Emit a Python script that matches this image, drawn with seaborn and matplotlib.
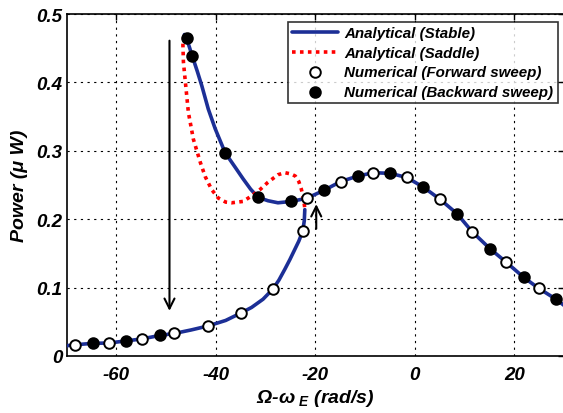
import matplotlib
matplotlib.use("Agg")
import matplotlib.pyplot as plt
import seaborn as sns
import pandas as pd

# ---- data ----
x_low = [-70, -68.2, -64.7, -61.5, -58.1, -54.8, -51.3, -48.3, -45.0, -41.5, -38.0,
         -34.9, -32.8, -30.5, -28.5, -27.3, -26.1, -25.1, -24.1, -23.3, -22.5, -22.2, -22.1]
y_low = [0.015, 0.0165, 0.0185, 0.019, 0.022, 0.025, 0.030, 0.033, 0.038, 0.044, 0.052,
         0.063, 0.071, 0.083, 0.098, 0.111, 0.127, 0.141, 0.156, 0.168, 0.183, 0.198, 0.214]

x_up = [-46.3, -45.8, -44.7, -43.7, -42.8, -41.5, -40.1, -38.1, -36.1, -34.5, -33.0,
        -31.5, -29.5, -27.5, -24.8, -22.8, -21.6, -18.3, -14.9, -11.5, -8.3, -4.9, -1.6,
        1.7, 5.1, 8.5, 11.5, 15.1, 18.4, 21.9, 24.9, 28.4, 30.0]
y_up = [0.470, 0.463, 0.438, 0.416, 0.395, 0.361, 0.332, 0.297, 0.276, 0.259, 0.244,
        0.232, 0.227, 0.224, 0.226, 0.229, 0.231, 0.242, 0.255, 0.263, 0.268, 0.267, 0.261,
        0.247, 0.229, 0.208, 0.182, 0.157, 0.137, 0.115, 0.099, 0.083, 0.074]

x_sad = [-46.4, -46.6, -46.5, -46.1, -45.5, -44.5, -43.1, -42.1, -40.8, -39.5, -38.0,
         -36.8, -34.5, -32.8, -31.0, -29.5, -27.5, -26.1, -24.8, -24.0, -23.3, -22.8,
         -22.4, -22.1]
y_sad = [0.468, 0.455, 0.430, 0.400, 0.356, 0.317, 0.283, 0.262, 0.243, 0.231, 0.225,
         0.224, 0.226, 0.234, 0.244, 0.254, 0.265, 0.268, 0.266, 0.263, 0.255, 0.244,
         0.232, 0.216]

x_fwd = [-68.2, -61.5, -54.8, -48.3, -41.5, -34.9, -28.5, -22.5, -21.6, -14.9, -8.3,
         -1.6, 5.1, 11.5, 18.4, 24.9]
y_fwd = [0.0165, 0.019, 0.025, 0.033, 0.044, 0.063, 0.098, 0.183, 0.231, 0.255, 0.268,
         0.261, 0.229, 0.182, 0.137, 0.099]

x_bwd = [-64.7, -58.1, -51.3, -45.8, -44.7, -38.1, -31.5, -24.8, -18.3, -11.5, -4.9,
         1.7, 8.5, 15.1, 21.9, 28.4]
y_bwd = [0.0185, 0.022, 0.030, 0.465, 0.438, 0.297, 0.232, 0.226, 0.242, 0.263, 0.267,
         0.247, 0.208, 0.157, 0.115, 0.083]

x_ticks = [-60, -40, -20, 0, 20]
y_ticks = [0, 0.1, 0.2, 0.3, 0.4, 0.5]
y_ticklabels = ["0", "0.1", "0.2", "0.3", "0.4", "0.5"]

sns.set_theme(style="white")
plt.rcParams['font.family'] = ['Liberation Sans', 'DejaVu Sans']
plt.rcParams['font.weight'] = 'bold'
plt.rcParams['font.style'] = 'italic'
plt.rcParams['text.color'] = 'black'
plt.rcParams['axes.labelcolor'] = 'black'
plt.rcParams['mathtext.fontset'] = 'custom'
plt.rcParams['mathtext.rm'] = 'Liberation Sans:bold:italic'
plt.rcParams['mathtext.it'] = 'Liberation Sans:bold:italic'
plt.rcParams['mathtext.bf'] = 'Liberation Sans:bold:italic'

fig = plt.figure(figsize=(5.63, 4.14), dpi=100)
ax = fig.add_axes([66.5 / 563, 57 / 414, 497.5 / 563, 342 / 414])

blue = '#1c2f96'
red = '#ff0000'

df_low = pd.DataFrame({'x': x_low, 'y': y_low})
df_up = pd.DataFrame({'x': x_up, 'y': y_up})
df_sad = pd.DataFrame({'x': x_sad, 'y': y_sad})

sns.lineplot(data=df_low, x='x', y='y', sort=False, color=blue, lw=2.6, ax=ax, zorder=3)
sns.lineplot(data=df_up, x='x', y='y', sort=False, color=blue, lw=2.6, ax=ax, zorder=3,
             label='Analytical (Stable)')
sns.lineplot(data=df_sad, x='x', y='y', sort=False, color=red, lw=2.6, ax=ax, zorder=4,
             linestyle=(0, (1, 1.2)), label='Analytical (Saddle)')
ax.scatter(x_fwd, y_fwd, s=58, facecolor='white', edgecolor='black', linewidth=1.4,
           zorder=5, label='Numerical (Forward sweep)')
ax.scatter(x_bwd, y_bwd, s=58, facecolor='black', edgecolor='black', linewidth=1.4,
           zorder=5, label='Numerical (Backward sweep)')

# arrows
ax.annotate('', xy=(-49.3, 0.066), xytext=(-49.3, 0.461),
            arrowprops=dict(arrowstyle='->', color='black', lw=1.5,
                            mutation_scale=18, shrinkA=0, shrinkB=0), zorder=6)
ax.annotate('', xy=(-19.8, 0.222), xytext=(-19.8, 0.186),
            arrowprops=dict(arrowstyle='->', color='black', lw=1.5,
                            mutation_scale=18, shrinkA=0, shrinkB=0), zorder=6)

ax.set_xlim(-70, 30)
ax.set_ylim(0, 0.5)
ax.set_xticks(x_ticks)
ax.set_xticklabels([str(t) for t in x_ticks])
ax.set_yticks(y_ticks)
ax.set_yticklabels(y_ticklabels)
ax.tick_params(axis='both', direction='in', length=4, width=1, colors='black',
               labelsize=13.5, top=True, right=True)
ax.tick_params(axis='x', pad=7)
ax.tick_params(axis='y', pad=3)
for lab in ax.get_xticklabels() + ax.get_yticklabels():
    lab.set_fontweight('bold'); lab.set_fontstyle('italic')

ax.grid(True, color='black', linestyle=(0, (2, 4)), linewidth=0.8)
for s in ax.spines.values():
    s.set_color('black'); s.set_linewidth(1.2)

ax.set_xlabel(r'Ω-ω$_{\ E}$ (rad/s)', fontsize=14, fontweight='bold', fontstyle='italic',
              labelpad=3, color='black')
ax.set_ylabel('Power (μ W)', fontsize=14, fontweight='bold', fontstyle='italic',
              labelpad=6, color='black')

leg = ax.legend(loc='upper right', bbox_to_anchor=(0.988, 0.977), fontsize=10.9,
                frameon=True, fancybox=False, edgecolor='black', handlelength=3.0,
                handletextpad=0.45, borderpad=0.3, labelspacing=0.36, borderaxespad=0)
leg.get_frame().set_linewidth(1.2)
for t in leg.get_texts():
    t.set_fontweight('bold'); t.set_fontstyle('italic'); t.set_color('black')

fig.savefig('out.png', dpi=100)
